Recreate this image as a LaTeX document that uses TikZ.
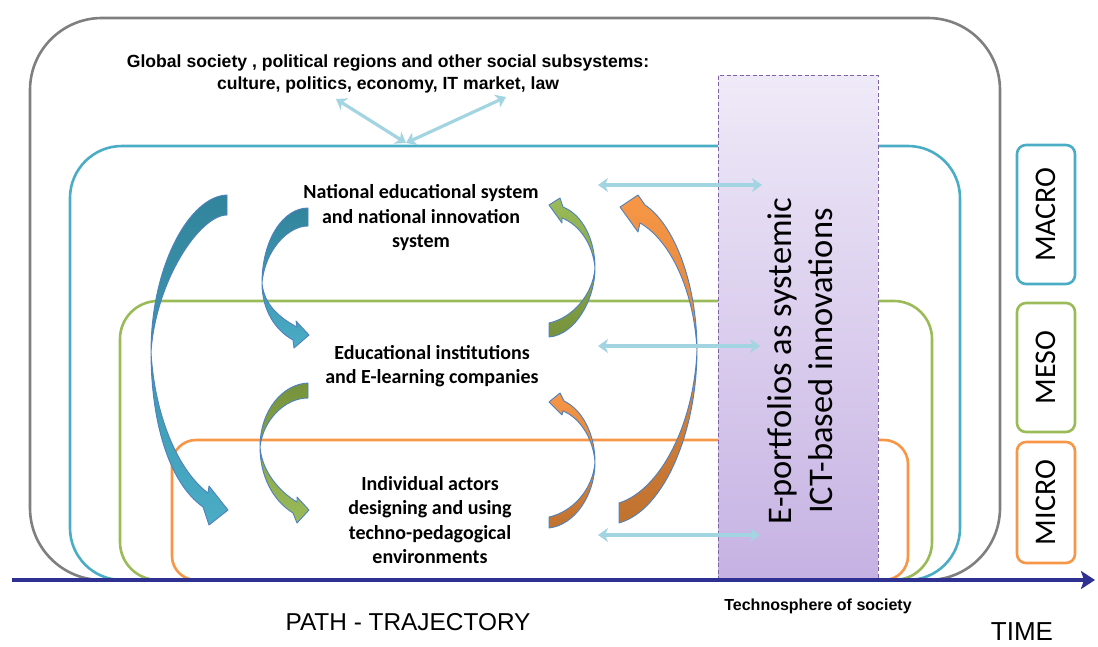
\documentclass[tikz,border=0pt]{standalone}
\usepackage{fontspec}
\setmainfont{Carlito}
\newfontfamily\arialf{Liberation Sans}
\usetikzlibrary{arrows.meta}
\definecolor{grayB}{HTML}{7F7F7F}
\definecolor{blueB}{HTML}{4BACC6}
\definecolor{greenB}{HTML}{9BBB59}
\definecolor{orangeB}{HTML}{F79646}
\definecolor{tealD}{HTML}{31849B}
\definecolor{oliveD}{HTML}{76923C}
\definecolor{orangeD}{HTML}{C0722F}
\definecolor{outl}{HTML}{4F81BD}
\definecolor{lcyan}{HTML}{A3D4E1}
\definecolor{purpL}{HTML}{EFEAF8}
\definecolor{purpD}{HTML}{C6B2E3}
\definecolor{purpB}{HTML}{8064A2}
\definecolor{timeC}{HTML}{2E3192}
\begin{document}
\begin{tikzpicture}[x=1pt,y=-1pt,
  levelbox/.style={draw, line width=2.6pt, inner sep=0pt, outer sep=0pt, anchor=north west},
  tag/.style={draw, line width=2.6pt, rounded corners=9pt, inner sep=0pt, minimum height=58pt, rotate=90, font=\fontsize{30}{30}\selectfont},
  carrow/.style={draw=outl, line width=0.9pt, line join=round},
  lbarrow/.style={draw=lcyan, line width=3.2pt, {Stealth[length=10pt,width=14pt,inset=3pt]}-{Stealth[length=10pt,width=14pt,inset=3pt]}},
  body/.style={font=\bfseries\fontsize{20}{24.5}\selectfont, align=center, inner sep=0pt},
  timeline/.style={draw=timeC, line width=4.8pt, -{Stealth[length=14pt,width=18pt,inset=3pt]}}
]
\useasboundingbox (0,0) rectangle (1098,646);

% nested levels
\node[levelbox, draw=grayB, rounded corners=72pt, minimum width=970pt, minimum height=562pt] (global) at (30,18) {};
\node[levelbox, draw=blueB, rounded corners=52pt, minimum width=890pt, minimum height=434pt] (macro) at (70,146) {};
\node[levelbox, draw=greenB, rounded corners=38pt, minimum width=812pt, minimum height=279pt] (meso) at (120,301) {};
\node[levelbox, draw=orangeB, rounded corners=24pt, minimum width=736pt, minimum height=140pt] (micro) at (172,440) {};

% e-portfolio band
\node[anchor=north west, minimum width=160pt, minimum height=505pt, inner sep=0pt, outer sep=0pt,
      top color=purpL, bottom color=purpD, draw=purpB, line width=0.8pt, dash pattern=on 4pt off 2.5pt] (band) at (718,75) {};
\node[rotate=90, font=\fontsize{34.5}{41}\selectfont, align=center] (eport) at (800,361) {E-portfolios as systemic\\ICT-based innovations};

% curved arrows
\path[carrow, top color=tealD, bottom color=blueB]
  (227,195) .. controls (190,196) and (151,265) .. (151,352)
  .. controls (151,420) and (168,482) .. (203,507)
  -- (209,525) -- (228,510) -- (209,486) -- (208,493)
  .. controls (180,472) and (155,420) .. (151,352)
  .. controls (156,280) and (200,215) .. (227,215) -- cycle;
\path[carrow, top color=tealD, bottom color=blueB]
  (308,208) .. controls (283,208) and (262,240) .. (262,283)
  .. controls (262,310) and (275,330) .. (293,340)
  -- (294,348) -- (309,335) -- (296,321) -- (297,327)
  .. controls (280,318) and (264,305) .. (262,283)
  .. controls (265,250) and (288,226) .. (308,226) -- cycle;
\path[carrow, top color=greenB, bottom color=oliveD]
  (549,205) -- (560,198) -- (563,207)
  .. controls (583,215) and (595,240) .. (595,268)
  .. controls (595,300) and (575,335) .. (549,337)
  -- (549,323)
  .. controls (572,318) and (593,295) .. (595,268)
  .. controls (593,245) and (580,225) .. (562,218)
  -- (562,223) -- cycle;
\path[carrow, top color=oliveD, bottom color=greenB]
  (308,383) .. controls (283,384) and (260,410) .. (260,447)
  .. controls (260,475) and (272,500) .. (293,513)
  -- (297,523) -- (309,510) -- (297,497) -- (297,502)
  .. controls (280,492) and (262,472) .. (260,447)
  .. controls (263,420) and (285,398) .. (308,398) -- cycle;
\path[carrow, top color=orangeB, bottom color=orangeD]
  (549,402) -- (560,393) -- (564,401)
  .. controls (583,410) and (595,435) .. (595,462)
  .. controls (595,495) and (575,525) .. (549,528)
  -- (549,517)
  .. controls (572,512) and (593,490) .. (595,462)
  .. controls (593,438) and (580,418) .. (563,411)
  -- (562,415) -- cycle;
\path[carrow, top color=orangeB, bottom color=orangeD]
  (620,207) -- (638,195) -- (645,205)
  .. controls (675,225) and (697,285) .. (697,350)
  .. controls (697,430) and (665,510) .. (619,523)
  -- (619,503)
  .. controls (660,490) and (694,425) .. (697,350)
  .. controls (694,290) and (670,240) .. (640,223)
  -- (638,232) -- cycle;

% texts
\node[font=\arialf\bfseries\fontsize{17.6}{22}\selectfont, align=center, inner sep=0pt] (glob) at (388,74) {Global society , political regions and other social subsystems:\\culture, politics, economy, IT market, law};
\node[body] (nat) at (421,218) {National educational system\\and national innovation\\system};
\node[body] (edu) at (432,366) {Educational institutions\\and E-learning companies};
\node[body] (ind) at (430,520) {Individual actors\\designing and using\\techno-pedagogical\\environments};

% light blue arrows
\coordinate (conv) at (406,143);
\coordinate (gl) at (336,99);
\coordinate (gr) at (506,97);
\draw[lbarrow] (gl) -- (conv);
\draw[lbarrow] (gr) -- (conv);
\coordinate (a1) at (598,185); \coordinate (b1) at (762,185);
\coordinate (a2) at (598,346); \coordinate (b2) at (760,346);
\coordinate (a3) at (598,535); \coordinate (b3) at (760,535);
\draw[lbarrow] (a1) -- (b1);
\draw[lbarrow] (a2) -- (b2);
\draw[lbarrow] (a3) -- (b3);

% timeline
\coordinate (t0) at (12,580);
\coordinate (t1) at (1095,580);
\draw[timeline] (t0) -- (t1);

% level tags
\node[tag, draw=blueB, minimum width=139pt] (tmacro) at (1046,214.5) {MACRO};
\node[tag, draw=greenB, minimum width=129pt] (tmeso) at (1046,367.5) {MESO};
\node[tag, draw=orangeB, minimum width=121pt] (tmicro) at (1046,502.5) {MICRO};

% bottom labels
\node[font=\arialf\fontsize{24.4}{28}\selectfont, inner sep=0pt] (path) at (408,622) {PATH - TRAJECTORY};
\node[font=\arialf\bfseries\fontsize{16}{18}\selectfont, inner sep=0pt] (tech) at (818,606) {Technosphere of society};
\node[font=\arialf\fontsize{26}{28}\selectfont, inner sep=0pt] (time) at (1022,632) {TIME};
\end{tikzpicture}
\end{document}
